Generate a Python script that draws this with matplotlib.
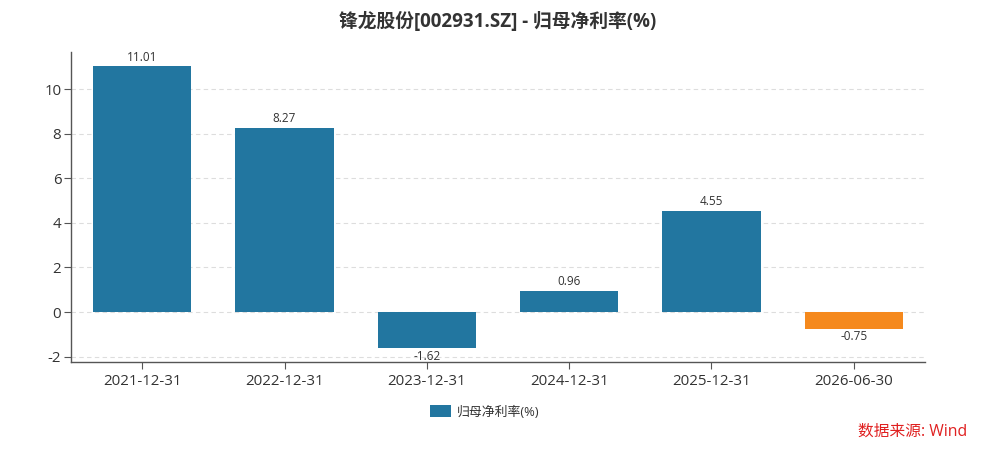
import matplotlib
matplotlib.use("Agg")
import matplotlib.pyplot as plt
from matplotlib.patches import Patch

plt.rcParams['font.family'] = ['Open Sans', 'Noto Sans CJK SC', 'DejaVu Sans']

categories = ["2021-12-31", "2022-12-31", "2023-12-31", "2024-12-31", "2025-12-31", "2026-06-30"]
values = [11.01, 8.27, -1.62, 0.96, 4.55, -0.75]
labels = ["11.01", "8.27", "-1.62", "0.96", "4.55", "-0.75"]
colors = ["#2276a0"] * 5 + ["#f5891d"]
yticks = [-2, 0, 2, 4, 6, 8, 10]

fig = plt.figure(figsize=(9.96, 4.51), dpi=100)
ax = fig.add_axes([0.0713, 0.1973, 0.8574, 0.6874])

x = list(range(len(categories)))
ax.bar(x, values, width=0.69, color=colors, zorder=3)
ax.set_xlim(-0.5, len(categories) - 0.5)
ax.set_ylim(-2.24, 11.66)
ax.set_yticks(yticks)
ax.set_yticklabels([str(t) for t in yticks])
ax.set_xticks(x)
ax.set_xticklabels(categories)

for xi, v, lab in zip(x, values, labels):
    if v >= 0:
        ax.annotate(lab, (xi, v), xytext=(0, 2), textcoords="offset points",
                    ha="center", va="bottom", fontsize=8.5, color="#333333")
    else:
        ax.annotate(lab, (xi, v), xytext=(0, -1), textcoords="offset points",
                    ha="center", va="top", fontsize=8.5, color="#333333")

ax.grid(axis="y", color="#dddddd", linestyle=(0, (4, 3)), linewidth=0.8, zorder=0)
for s in ["top", "right"]:
    ax.spines[s].set_visible(False)
for s in ["left", "bottom"]:
    ax.spines[s].set_color("#555555")
    ax.spines[s].set_linewidth(1)
ax.tick_params(axis="both", colors="#555555", labelcolor="#333333", labelsize=10.8, length=5)
ax.tick_params(axis="y", pad=2)

fig.text(0.5, 0.951, "锋龙股份[002931.SZ] - 归母净利率(%)", ha="center", va="center",
         fontsize=13.5, fontweight="bold", color="#333333")

handle = Patch(facecolor="#2276a0", edgecolor="none", label="归母净利率(%)")
fig.legend(handles=[handle], loc="center", bbox_to_anchor=(0.487, 0.087), frameon=False,
           fontsize=9.3, handlelength=1.6, handleheight=1.1, handletextpad=0.5,
           labelcolor="#333333")

fig.text(0.971, 0.044, "数据来源: Wind", ha="right", va="center", fontsize=11.3, color="#e02020")

fig.savefig("out.png", dpi=100)
